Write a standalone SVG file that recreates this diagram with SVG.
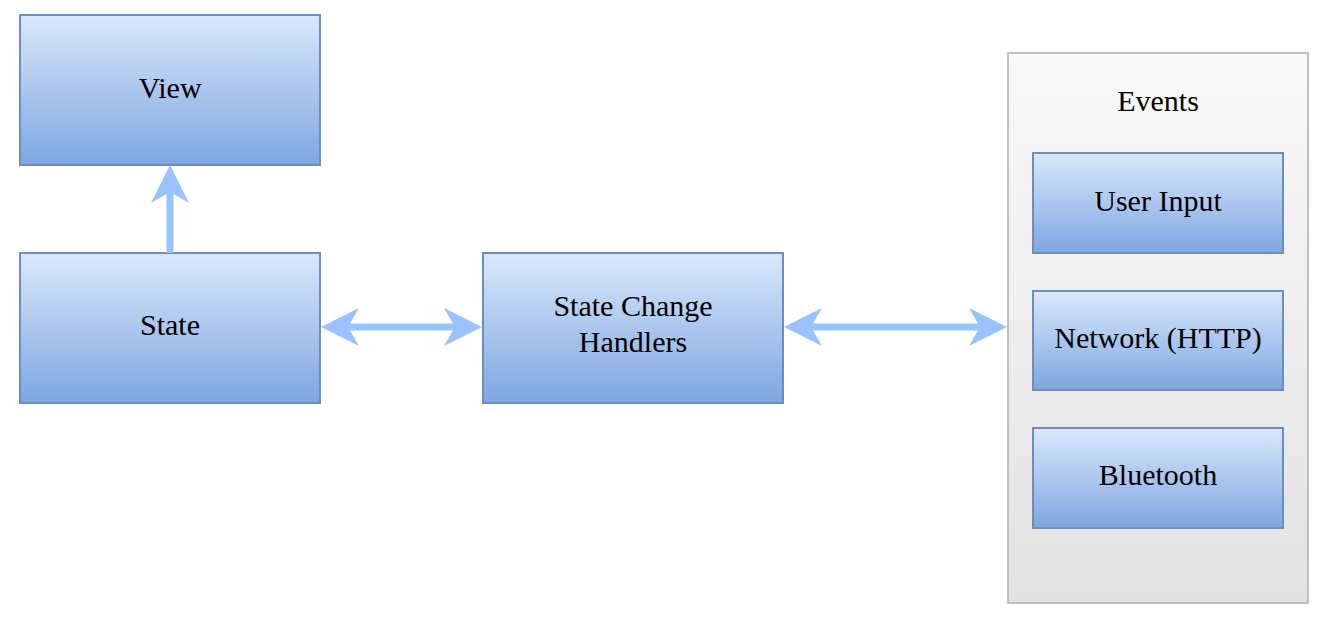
<svg xmlns="http://www.w3.org/2000/svg" width="1335" height="622" viewBox="0 0 1335 622">
  <defs>
    <linearGradient id="blue" x1="0" y1="0" x2="0" y2="1">
      <stop offset="0" stop-color="#dae8fc"/>
      <stop offset="1" stop-color="#7ea6e0"/>
    </linearGradient>
    <linearGradient id="grey" x1="0" y1="0" x2="0" y2="1">
      <stop offset="0" stop-color="#f9f9f9"/>
      <stop offset="1" stop-color="#e2e2e2"/>
    </linearGradient>
  </defs>
  <style>
    .box { fill: url(#blue); stroke: #6c8ebf; stroke-width: 2; }
    .cont { fill: url(#grey); stroke: #c0c0c0; stroke-width: 2; }
    .lbl { font-family: "Liberation Serif", "Times New Roman", serif; font-size: 30px; fill: #000; text-anchor: middle; }
    .arrow { fill: #99c2ff; stroke: none; }
  </style>
  <rect width="1335" height="622" fill="#ffffff"/>

  <g id="events">
    <rect class="cont" x="1008" y="53" width="300" height="550"/>
    <text class="lbl" x="1158" y="111">Events</text>
  </g>
  <g id="view">
    <rect class="box" x="20" y="15" width="300" height="150"/>
    <text class="lbl" x="170" y="98">View</text>
  </g>
  <g id="state">
    <rect class="box" x="20" y="253" width="300" height="150"/>
    <text class="lbl" x="170" y="335">State</text>
  </g>
  <g id="handlers">
    <rect class="box" x="483" y="253" width="300" height="150"/>
    <text class="lbl" x="633" y="316">State Change</text>
    <text class="lbl" x="633" y="352">Handlers</text>
  </g>
  <g id="user-input">
    <rect class="box" x="1033" y="153" width="250" height="100"/>
    <text class="lbl" x="1158" y="211">User Input</text>
  </g>
  <g id="network">
    <rect class="box" x="1033" y="291" width="250" height="99"/>
    <text class="lbl" x="1158" y="348">Network (HTTP)</text>
  </g>
  <g id="bluetooth">
    <rect class="box" x="1033" y="428" width="250" height="100"/>
    <text class="lbl" x="1158" y="485">Bluetooth</text>
  </g>

  <g id="connectors">
    <path class="arrow" d="M170,165 L189,203 L173.5,194 L173.5,253 L166.5,253 L166.5,194 L151,203 Z"/>
    <path class="arrow" d="M321,327 L359,308 L350,323.5 L453,323.5 L444,308 L482,327 L444,346 L453,330.5 L350,330.5 L359,346 Z"/>
    <path class="arrow" d="M784,327 L822,308 L813,323.5 L978,323.5 L969,308 L1007,327 L969,346 L978,330.5 L813,330.5 L822,346 Z"/>
  </g>
</svg>
